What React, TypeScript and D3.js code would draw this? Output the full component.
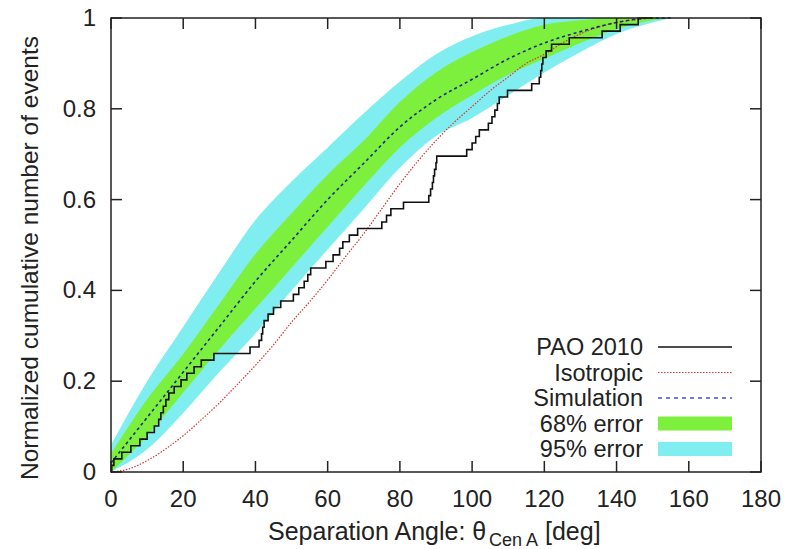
import React from "react";
import * as d3 from "d3";

// ---- data ----
const xTicks = [0, 20, 40, 60, 80, 100, 120, 140, 160, 180];
const yTicks = [0, 0.2, 0.4, 0.6, 0.8, 1];

const bandX = [0, 10, 20, 30, 40, 50, 60, 70, 80, 90, 100, 110, 120, 130, 140, 150, 155];
const simY = [0.02, 0.12, 0.22, 0.32, 0.42, 0.51, 0.6, 0.68, 0.76, 0.82, 0.865, 0.91, 0.945, 0.97, 0.99, 1.0, 1.0];
const hi95 = [0.06, 0.2, 0.32, 0.44, 0.555, 0.64, 0.715, 0.79, 0.86, 0.92, 0.96, 0.985, 1.0, 1.0, 1.0, 1.0, 1.0];
const hi68 = [0.04, 0.16, 0.26, 0.37, 0.48, 0.57, 0.655, 0.73, 0.815, 0.88, 0.925, 0.96, 0.985, 0.995, 1.0, 1.0, 1.0];
const lo68 = [0.0, 0.08, 0.175, 0.27, 0.36, 0.45, 0.54, 0.63, 0.715, 0.78, 0.83, 0.875, 0.91, 0.945, 0.975, 0.995, 1.0];
const lo95 = [0.0, 0.05, 0.13, 0.22, 0.305, 0.4, 0.49, 0.58, 0.67, 0.74, 0.78, 0.83, 0.88, 0.925, 0.965, 0.99, 1.0];

const isoX = [0, 5, 10, 15, 20, 25, 30, 35, 40, 45, 50, 55, 60, 65, 70, 75, 80, 85, 90, 95, 100, 105, 110, 115, 120, 125, 130, 135, 140, 145, 150, 155];
const isoY = [0, 0.007, 0.025, 0.05, 0.08, 0.115, 0.152, 0.193, 0.235, 0.28, 0.33, 0.375, 0.423, 0.475, 0.525, 0.58, 0.635, 0.685, 0.73, 0.77, 0.805, 0.84, 0.87, 0.9, 0.92, 0.945, 0.965, 0.98, 0.99, 0.996, 1, 1];

// PAO 2010 event angles (69 events)
const paoEvents = [
  0.2, 0.8, 3, 5.5, 8, 10, 12, 13.2, 13.8, 14.5, 15.2, 16, 17.5, 19.4, 21, 23, 25, 28.5,
  38.5, 41, 41.7, 42, 42.4, 43.5, 45, 47, 50.5, 52, 53.5, 54.5, 55.3, 59.5, 61.5, 63.3,
  64.2, 66, 68.3, 75, 76.3, 77.5, 81, 88, 88.5, 89, 89.3, 89.6, 90, 90.2, 98.5, 100, 101,
  102, 104.5, 105.5, 106.3, 107, 107.5, 109.8, 116.5, 118.6, 119, 119.3, 119.6, 120.5,
  122, 126.9, 136, 141, 146,
];

const legendItems = ["PAO 2010", "Isotropic", "Simulation", "68% error", "95% error"];

export default function App() {
  const W = 794, H = 549;
  const x0 = 111, x1 = 761, y0 = 472, y1 = 18;
  const x = d3.scaleLinear().domain([0, 180]).range([x0, x1]);
  const y = d3.scaleLinear().domain([0, 1]).range([y0, y1]);

  const band = (lo: number[], hi: number[]) =>
    d3.area<number>()
      .x((_, i) => x(bandX[i]))
      .y0((_, i) => y(lo[i]))
      .y1((_, i) => y(hi[i]))
      .curve(d3.curveMonotoneX)(bandX) || "";

  const simPath = d3.line<number>().x((_, i) => x(bandX[i])).y((d) => y(d)).curve(d3.curveMonotoneX)(simY) || "";
  const isoPath = d3.line<number>().x((_, i) => x(isoX[i])).y((d) => y(d)).curve(d3.curveMonotoneX)(isoY) || "";

  const N = paoEvents.length;
  const paoPts: [number, number][] = [[0, 0], ...paoEvents.map((a, i) => [a, (i + 1) / N] as [number, number]), [150, 1]];
  const paoPath = d3.line().x((d) => x(d[0])).y((d) => y(d[1])).curve(d3.curveStepAfter)(paoPts) || "";

  const font = "'Liberation Sans', Arial, Helvetica, sans-serif";
  const tickLen = 11;
  const textCol = "#222";
  const green = "#7cf03c";
  const cyan = "#80eef0";

  const legX = 643, legS0 = 658, legS1 = 732;
  const legY = [347, 372.5, 398, 423.5, 449];

  return (
    <svg width={W} height={H} style={{ position: "absolute", left: 0, top: 0, background: "#fff" }} fontFamily={font}>
      <rect x={0} y={0} width={W} height={H} fill="#fff" />
      <path d={band(lo95, hi95)} fill={cyan} />
      <path d={band(lo68, hi68)} fill={green} />
      <path d={isoPath} fill="none" stroke="#d03838" strokeWidth={1.2} strokeDasharray="1.5,1.5" />
      <path d={simPath} fill="none" stroke="#1c2a8a" strokeWidth={1.6} strokeDasharray="3,3" />
      <path d={paoPath} fill="none" stroke="#111" strokeWidth={1.6} />

      {/* frame */}
      <rect x={x0} y={y1} width={x1 - x0} height={y0 - y1} fill="none" stroke="#222" strokeWidth={1.5} />
      {xTicks.map((t) => (
        <g key={"xt" + t}>
          <line x1={x(t)} x2={x(t)} y1={y0} y2={y0 - tickLen} stroke="#222" strokeWidth={1.5} />
          <line x1={x(t)} x2={x(t)} y1={y1} y2={y1 + tickLen} stroke="#222" strokeWidth={1.5} />
          <text x={x(t)} y={507} textAnchor="middle" fontSize={24} fill={textCol}>{t}</text>
        </g>
      ))}
      {yTicks.map((t) => (
        <g key={"yt" + t}>
          <line x1={x0} x2={x0 + tickLen} y1={y(t)} y2={y(t)} stroke="#222" strokeWidth={1.5} />
          <line x1={x1} x2={x1 - tickLen} y1={y(t)} y2={y(t)} stroke="#222" strokeWidth={1.5} />
          <text x={96} y={y(t) + 8} textAnchor="end" fontSize={24} fill={textCol}>{t === 0 || t === 1 ? String(t) : t.toFixed(1)}</text>
        </g>
      ))}

      {/* axis titles */}
      <text transform={`translate(38, 258) rotate(-90)`} textAnchor="middle" fontSize={24.5} fill={textCol}>
        Normalized cumulative number of events
      </text>
      <text x={268} y={540} fontSize={25} fill={textCol}>Separation Angle: θ</text>
      <text x={489} y={546} fontSize={18} fill={textCol}>Cen A</text>
      <text x={545} y={540} fontSize={25} fill={textCol}>[deg]</text>

      {/* legend */}
      {legendItems.map((l, i) => (
        <text key={l} x={legX} y={legY[i] + 8} textAnchor="end" fontSize={23.5} fill={textCol}>{l}</text>
      ))}
      <line x1={legS0} x2={legS1} y1={legY[0]} y2={legY[0]} stroke="#111" strokeWidth={1.6} />
      <line x1={legS0} x2={legS1} y1={legY[1]} y2={legY[1]} stroke="#d03838" strokeWidth={1.2} strokeDasharray="1.5,1.5" />
      <line x1={legS0} x2={legS1} y1={legY[2]} y2={legY[2]} stroke="#4a4ae0" strokeWidth={1.4} strokeDasharray="4,4" />
      <rect x={legS0} y={legY[3] - 7} width={legS1 - legS0} height={14} fill={green} />
      <rect x={legS0} y={legY[4] - 7} width={legS1 - legS0} height={14} fill={cyan} />
    </svg>
  );
}
